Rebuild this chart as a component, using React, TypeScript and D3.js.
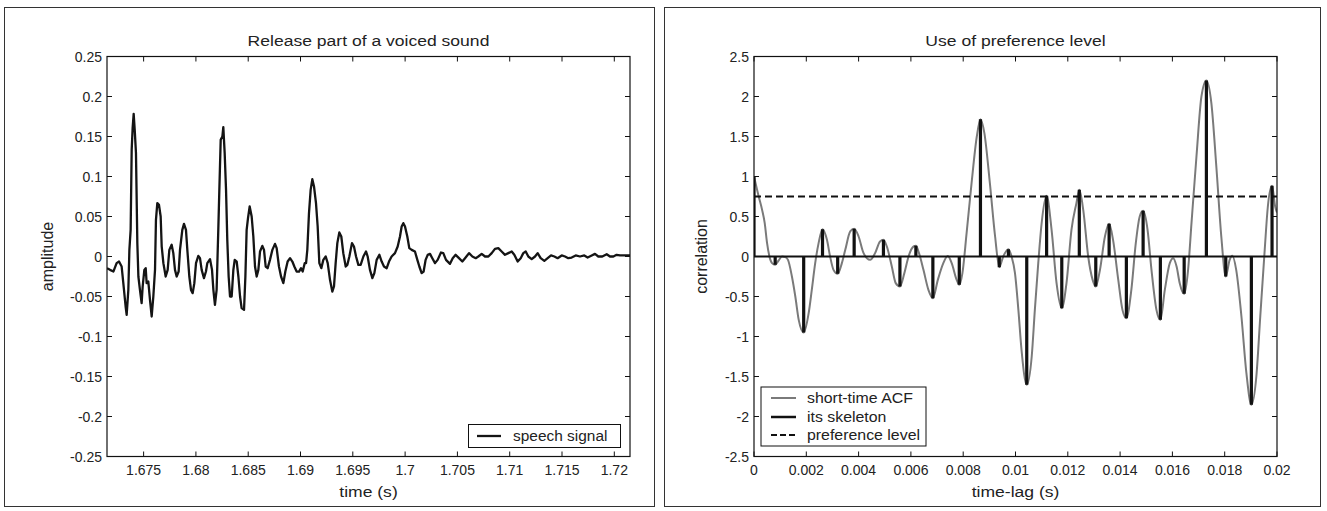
import React from 'react';
import * as d3 from 'd3';

// ---------- Left panel: speech signal ----------
const speechTime = [
  1.6715, 1.67179, 1.67211, 1.67242, 1.67265, 1.6729, 1.67306, 1.67328, 1.67338, 1.67354,
  1.67364, 1.67376, 1.67386, 1.67395, 1.67405, 1.67415, 1.67427, 1.6744, 1.6745, 1.67465,
  1.67481, 1.67491, 1.67507, 1.6752, 1.67529, 1.67545, 1.67561, 1.67577, 1.67593, 1.67609,
  1.67618, 1.67631, 1.67647, 1.67663, 1.67673, 1.67689, 1.67711, 1.6773, 1.67746, 1.67768,
  1.67784, 1.678, 1.67816, 1.67835, 1.67848, 1.6787, 1.67886, 1.67905, 1.67918, 1.67937,
  1.67953, 1.67969, 1.67985, 1.68001, 1.68023, 1.68039, 1.68055, 1.68077, 1.68096, 1.68109,
  1.68135, 1.68154, 1.68167, 1.68182, 1.68198, 1.68214, 1.68224, 1.68237, 1.68253, 1.68262,
  1.68275, 1.68288, 1.683, 1.68313, 1.68326, 1.68342, 1.68358, 1.68371, 1.6839, 1.68406,
  1.68422, 1.68437, 1.6846, 1.68473, 1.68485, 1.68498, 1.68514, 1.68533, 1.68549, 1.68565,
  1.68581, 1.68597, 1.68613, 1.68635, 1.68651, 1.68667, 1.68686, 1.68708, 1.68731, 1.68756,
  1.68772, 1.68794, 1.68814, 1.68836, 1.68855, 1.68877, 1.689, 1.68922, 1.68941, 1.68963,
  1.68986, 1.69005, 1.69021, 1.6904, 1.69053, 1.69065, 1.69081, 1.69097, 1.69113, 1.69129,
  1.69148, 1.69164, 1.6918, 1.69199, 1.69218, 1.69241, 1.6926, 1.69282, 1.69304, 1.6932,
  1.69336, 1.69352, 1.69371, 1.6939, 1.69409, 1.69432, 1.69448, 1.69467, 1.69492, 1.69511,
  1.69531, 1.69553, 1.69575, 1.69601, 1.69626, 1.69642, 1.69664, 1.69687, 1.69706, 1.69728,
  1.69754, 1.69776, 1.69798, 1.69824, 1.69846, 1.69871, 1.69903, 1.69929, 1.69951, 1.69967,
  1.69983, 1.69999, 1.70021, 1.7004, 1.70063, 1.70094, 1.70117, 1.70136, 1.70158, 1.70177,
  1.70196, 1.70216, 1.70238, 1.7026, 1.70286, 1.70311, 1.70343, 1.70365, 1.70391, 1.70429,
  1.70455, 1.70483, 1.70515, 1.70547, 1.70573, 1.70611, 1.70643, 1.70675, 1.707, 1.70732,
  1.70764, 1.70796, 1.70828, 1.70859, 1.70891, 1.70923, 1.70955, 1.70987, 1.71019, 1.71044,
  1.71076, 1.71105, 1.7113, 1.71153, 1.71178, 1.7121, 1.71242, 1.71267, 1.71296, 1.71331,
  1.71363, 1.71395, 1.71427, 1.71458, 1.71497, 1.71529, 1.7156, 1.71592, 1.71631, 1.71672,
  1.71713, 1.71745, 1.71784, 1.71815, 1.71847, 1.71885, 1.71927, 1.71959, 1.71991, 1.72022,
  1.72054, 1.72102, 1.7215,
];
const speechAmplitude = [
  -0.0146, -0.0167, -0.0188, -0.0083, -0.0063, -0.0125, -0.0333, -0.0625, -0.0729, -0.0417,
  0.0083, 0.0333, 0.1333, 0.1604, 0.1783, 0.1583, 0.1292, 0.0167, -0.025, -0.0417,
  -0.0583, -0.0375, -0.0167, -0.0146, -0.0333, -0.0313, -0.0542, -0.075, -0.05, -0.0167,
  0.0458, 0.0667, 0.0646, 0.05, 0.0125, -0.0083, -0.025, -0.0167, 0.0083, 0.0146,
  0.0042, -0.0167, -0.025, -0.0188, 0.0083, 0.0333, 0.0408, 0.0333, 0.0083, -0.025,
  -0.0417, -0.0458, -0.0333, -0.0083, 0.0008, -0.0021, -0.0167, -0.0271, -0.0188, -0.0083,
  -0.0033, -0.0167, -0.0417, -0.0604, -0.0417, 0.0333, 0.0833, 0.1458, 0.15, 0.1617,
  0.1292, 0.0833, 0.0208, -0.025, -0.05, -0.05, -0.0167, -0.0042, -0.0063, -0.025,
  -0.05, -0.0646, -0.0667, -0.025, 0.0333, 0.0479, 0.0625, 0.05, 0.025, -0.0125,
  -0.025, -0.0167, 0.0063, 0.0133, 0.0083, -0.0125, -0.0146, -0.0042, 0.0083, 0.0158,
  0.0104, -0.0125, -0.025, -0.0333, -0.0188, -0.0063, -0.0021, -0.0063, -0.0125, -0.0188,
  -0.0188, -0.0146, -0.0188, -0.0083, -0.0083, 0.0083, 0.0542, 0.0833, 0.0967, 0.0875,
  0.0667, 0.0375, -0.0083, -0.0146, -0.0042, 0.0, -0.0083, -0.0292, -0.0438, -0.0375,
  -0.0083, 0.0167, 0.03, 0.025, 0.0042, -0.0125, -0.0104, 0.0, 0.0167, 0.0125,
  0.0, -0.0104, -0.0104, 0.0, 0.0063, 0.0, -0.0167, -0.0271, -0.0208, -0.0042,
  0.0021, -0.0063, -0.0125, -0.0146, -0.0063, 0.0, 0.0042, 0.0125, 0.025, 0.0375,
  0.0417, 0.0375, 0.025, 0.0104, 0.0083, 0.0063, -0.0042, -0.0125, -0.0208, -0.0188,
  -0.0042, 0.0021, 0.0033, -0.0021, -0.0083, -0.0042, 0.005, 0.0042, -0.0042, -0.0092,
  -0.0021, 0.0021, -0.0021, -0.0063, -0.0021, 0.0042, 0.0, -0.0021, 0.0, 0.0033,
  0.0, 0.0, 0.0042, 0.0096, 0.0104, 0.0063, 0.0021, 0.0042, 0.0063, 0.0021,
  -0.0063, -0.0021, 0.0042, 0.0063, 0.0, -0.0033, 0.0, 0.0042, -0.0021, -0.0054,
  -0.0021, 0.0013, 0.0, -0.0021, 0.0013, 0.0, -0.0021, -0.0013, 0.0013, 0.0,
  0.0013, -0.0013, 0.0013, 0.0033, 0.0, 0.0, 0.0029, 0.0, 0.0, 0.0021,
  0.0013, 0.0013, 0.0013,
];
const leftXTicks = [1.675, 1.68, 1.685, 1.69, 1.695, 1.7, 1.705, 1.71, 1.715, 1.72];
const leftXTickLabels = ['1.675', '1.68', '1.685', '1.69', '1.695', '1.7', '1.705', '1.71', '1.715', '1.72'];
const leftYTicks = [0.25, 0.2, 0.15, 0.1, 0.05, 0, -0.05, -0.1, -0.15, -0.2, -0.25];
const leftYTickLabels = ['0.25', '0.2', '0.15', '0.1', '0.05', '0', '-0.05', '-0.1', '-0.15', '-0.2', '-0.25'];

// ---------- Right panel: short-time ACF ----------
const acfLag = [
  0, 0.00018, 0.00031, 0.00041, 0.0005, 0.00059, 0.00069, 0.00081, 0.00094, 0.00107,
  0.0012, 0.0013, 0.00145, 0.00158, 0.00171, 0.0019, 0.00209, 0.00221, 0.00234, 0.00247,
  0.00262, 0.00279, 0.00291, 0.00304, 0.0032, 0.00336, 0.00349, 0.00368, 0.00383, 0.004,
  0.00419, 0.00444, 0.00463, 0.00482, 0.00495, 0.00508, 0.00527, 0.00542, 0.00558, 0.00575,
  0.00591, 0.0061, 0.00619, 0.00631, 0.00648, 0.00667, 0.00684, 0.00703, 0.00724, 0.00741,
  0.00756, 0.00775, 0.00785, 0.00797, 0.00813, 0.00832, 0.00852, 0.00866, 0.00881, 0.00902,
  0.00922, 0.00938, 0.00953, 0.00973, 0.00985, 0.00998, 0.01011, 0.01023, 0.01043, 0.01062,
  0.01074, 0.01087, 0.011, 0.01119, 0.01138, 0.01157, 0.01177, 0.01195, 0.01214, 0.01233,
  0.01244, 0.01259, 0.01278, 0.01295, 0.01307, 0.01323, 0.01342, 0.01358, 0.01373, 0.01393,
  0.01409, 0.01424, 0.01443, 0.0146, 0.01475, 0.01488, 0.01505, 0.0152, 0.01539, 0.01554,
  0.01571, 0.0159, 0.01603, 0.01616, 0.01628, 0.01645, 0.0166, 0.01673, 0.01692, 0.01711,
  0.0173, 0.01749, 0.01768, 0.01787, 0.01804, 0.01819, 0.01829, 0.01844, 0.01864, 0.01883,
  0.01902, 0.01921, 0.01936, 0.01953, 0.01965, 0.01981, 0.01993, 0.02,
];
const acfValue = [
  1.0, 0.75, 0.583, 0.417, 0.167, 0.0, -0.083, -0.104, -0.05, 0.0,
  -0.008, -0.042, -0.25, -0.5, -0.792, -0.95, -0.708, -0.417, -0.083, 0.167,
  0.342, 0.208, 0.0, -0.167, -0.217, -0.083, 0.083, 0.313, 0.346, 0.25,
  0.042, -0.042, 0.042, 0.188, 0.208, 0.125, -0.125, -0.333, -0.375, -0.208,
  0.0, 0.125, 0.133, 0.042, -0.167, -0.417, -0.521, -0.292, -0.083, 0.005,
  -0.083, -0.292, -0.354, -0.208, 0.292, 0.917, 1.5, 1.717, 1.542, 0.917,
  0.25, -0.133, 0.0, 0.092, 0.0, -0.208, -0.667, -1.167, -1.604, -1.25,
  -0.667, -0.083, 0.417, 0.758, 0.333, -0.333, -0.646, -0.333, 0.333, 0.667,
  0.833, 0.583, 0.0, -0.292, -0.375, -0.167, 0.25, 0.408, 0.208, -0.292,
  -0.667, -0.771, -0.417, 0.167, 0.5, 0.571, 0.333, -0.167, -0.667, -0.792,
  -0.417, -0.083, -0.021, -0.125, -0.333, -0.467, -0.167, 0.417, 1.25, 2.0,
  2.2, 1.917, 1.125, 0.25, -0.25, -0.042, 0.008, -0.167, -0.75, -1.458,
  -1.854, -1.5, -0.75, 0.083, 0.625, 0.883, 0.625, 0.55,
];
const skeletonLag = [
  0, 0.00081, 0.0019, 0.00262, 0.0032, 0.00383, 0.00495, 0.00558, 0.00619, 0.00684,
  0.00785, 0.00866, 0.00938, 0.00973, 0.01043, 0.01119, 0.01177, 0.01244, 0.01307, 0.01358,
  0.01424, 0.01488, 0.01554, 0.01645, 0.0173, 0.01804, 0.01902, 0.01981,
];
const skeletonValue = [
  1.0, -0.104, -0.95, 0.342, -0.217, 0.346, 0.208, -0.375, 0.133, -0.521,
  -0.354, 1.717, -0.133, 0.092, -1.604, 0.758, -0.646, 0.833, -0.375, 0.408,
  -0.771, 0.571, -0.792, -0.467, 2.2, -0.25, -1.854, 0.883,
];
const preferenceLevel = 0.75;
const rightXTicks = [0, 0.002, 0.004, 0.006, 0.008, 0.01, 0.012, 0.014, 0.016, 0.018, 0.02];
const rightXTickLabels = ['0', '0.002', '0.004', '0.006', '0.008', '0.01', '0.012', '0.014', '0.016', '0.018', '0.02'];
const rightYTicks = [2.5, 2, 1.5, 1, 0.5, 0, -0.5, -1, -1.5, -2, -2.5];
const rightYTickLabels = ['2.5', '2', '1.5', '1', '0.5', '0', '-0.5', '-1', '-1.5', '-2', '-2.5'];

const FONT = '"Liberation Sans", Arial, Helvetica, sans-serif';
const TEXT = '#222';

type TxtProps = {
  x: number; y: number; size: number; anchor?: string; rotate?: number; sx?: number; children: React.ReactNode;
};
function Txt({ x, y, size, anchor = 'middle', rotate = 0, sx = 1, children }: TxtProps) {
  return (
    <text
      transform={`translate(${x},${y}) rotate(${rotate}) scale(${sx},1)`}
      textAnchor={anchor}
      fontSize={size}
      fontFamily={FONT}
      fill={TEXT}
    >
      {children}
    </text>
  );
}

type AxesProps = {
  left: number; right: number; top: number; bottom: number;
  x: d3.ScaleLinear<number, number>; y: d3.ScaleLinear<number, number>;
  xTicks: number[]; xLabels: string[]; yTicks: number[]; yLabels: string[];
  title: string; xTitle: string; yTitle: string; yTitleOffset: number;
};
function Axes({ left, right, top, bottom, x, y, xTicks, xLabels, yTicks, yLabels, title, xTitle, yTitle, yTitleOffset }: AxesProps) {
  const tl = 5;
  return (
    <g>
      <rect x={left} y={top} width={right - left} height={bottom - top} fill="none" stroke="#111" strokeWidth={1.2} />
      {xTicks.map((t, i) => (
        <g key={'xt' + i}>
          <line x1={x(t)} x2={x(t)} y1={bottom} y2={bottom - tl} stroke="#111" strokeWidth={1} />
          <line x1={x(t)} x2={x(t)} y1={top} y2={top + tl} stroke="#111" strokeWidth={1} />
          <Txt x={x(t)} y={bottom + 18} size={14}>{xLabels[i]}</Txt>
        </g>
      ))}
      {yTicks.map((t, i) => (
        <g key={'yt' + i}>
          <line x1={left} x2={left + tl} y1={y(t)} y2={y(t)} stroke="#111" strokeWidth={1} />
          <line x1={right} x2={right - tl} y1={y(t)} y2={y(t)} stroke="#111" strokeWidth={1} />
          <Txt x={left - 5} y={y(t) + 5} size={14} anchor="end">{yLabels[i]}</Txt>
        </g>
      ))}
      <Txt x={(left + right) / 2} y={top - 11} size={15} sx={1.17}>{title}</Txt>
      <Txt x={(left + right) / 2} y={bottom + 40} size={15} sx={1.17}>{xTitle}</Txt>
      <Txt x={left - yTitleOffset} y={(top + bottom) / 2} size={16} rotate={-90}>{yTitle}</Txt>
    </g>
  );
}

export default function App() {
  const top = 56.5;
  const bottom = 456.5;

  // left panel
  const lx0 = 107, lx1 = 630;
  const xL = d3.scaleLinear().domain([1.6715, 1.7215]).range([lx0, lx1]);
  const yL = d3.scaleLinear().domain([-0.25, 0.25]).range([bottom, top]);
  const speechPts: [number, number][] = speechTime.map((t, i) => [t, speechAmplitude[i]]);
  const speechPath = d3.line<[number, number]>().x((d) => xL(d[0])).y((d) => yL(d[1])).curve(d3.curveLinear)(speechPts) || '';

  // right panel
  const rx0 = 754, rx1 = 1277;
  const xR = d3.scaleLinear().domain([0, 0.02]).range([rx0, rx1]);
  const yR = d3.scaleLinear().domain([-2.5, 2.5]).range([bottom, top]);
  const acfPts: [number, number][] = acfLag.map((t, i) => [t, acfValue[i]]);
  const acfPath = d3.line<[number, number]>().x((d) => xR(d[0])).y((d) => yR(d[1])).curve(d3.curveMonotoneX)(acfPts) || '';

  return (
    <svg width={1327} height={511} style={{ position: 'absolute', left: 0, top: 0, background: '#fff' }}>
      <rect x={0} y={0} width={1327} height={511} fill="#fff" />
      <rect x={4.5} y={7.5} width={650} height={499} fill="none" stroke="#333" strokeWidth={1} />
      <rect x={664.5} y={7.5} width={656} height={499} fill="none" stroke="#333" strokeWidth={1} />

      <defs>
        <clipPath id="clipL"><rect x={lx0} y={top} width={lx1 - lx0} height={bottom - top} /></clipPath>
        <clipPath id="clipR"><rect x={rx0} y={top} width={rx1 - rx0} height={bottom - top} /></clipPath>
      </defs>

      {/* Left */}
      <path d={speechPath} fill="none" stroke="#141414" strokeWidth={2.3} strokeLinejoin="round" clipPath="url(#clipL)" />
      <Axes left={lx0} right={lx1} top={top} bottom={bottom} x={xL} y={yL}
        xTicks={leftXTicks} xLabels={leftXTickLabels} yTicks={leftYTicks} yLabels={leftYTickLabels}
        title="Release part of a voiced sound" xTitle="time (s)" yTitle="amplitude" yTitleOffset={54} />
      <g>
        <rect x={468.5} y={424.5} width={152} height={23} fill="#fff" stroke="#111" strokeWidth={1} />
        <line x1={477} x2={501} y1={436} y2={436} stroke="#141414" strokeWidth={2.3} />
        <Txt x={513} y={441} size={15} anchor="start" sx={1.03}>speech signal</Txt>
      </g>

      {/* Right */}
      <g clipPath="url(#clipR)">
        <path d={acfPath} fill="none" stroke="#7a7a7a" strokeWidth={2} />
        <line x1={rx0} x2={rx1} y1={yR(0)} y2={yR(0)} stroke="#111" strokeWidth={2} />
        {skeletonLag.map((t, i) => (
          <line key={'sk' + i} x1={xR(t)} x2={xR(t)} y1={yR(0)} y2={yR(skeletonValue[i])} stroke="#111" strokeWidth={3.2} />
        ))}
        <line x1={rx0} x2={rx1} y1={yR(preferenceLevel)} y2={yR(preferenceLevel)} stroke="#111" strokeWidth={2} strokeDasharray="7,4" />
      </g>
      <Axes left={rx0} right={rx1} top={top} bottom={bottom} x={xR} y={yR}
        xTicks={rightXTicks} xLabels={rightXTickLabels} yTicks={rightYTicks} yLabels={rightYTickLabels}
        title="Use of preference level" xTitle="time-lag (s)" yTitle="correlation" yTitleOffset={47} />
      <g>
        <rect x={761} y={387} width={165} height={59} fill="#fff" stroke="#111" strokeWidth={1} />
        <line x1={771} x2={796} y1={398} y2={398} stroke="#7a7a7a" strokeWidth={2} />
        <Txt x={807} y={403} size={15} anchor="start" sx={1.06}>short-time ACF</Txt>
        <line x1={771} x2={796} y1={417} y2={417} stroke="#111" strokeWidth={2.5} />
        <Txt x={807} y={422} size={15} anchor="start" sx={1.06}>its skeleton</Txt>
        <line x1={771} x2={796} y1={435} y2={435} stroke="#111" strokeWidth={2} strokeDasharray="6,3" />
        <Txt x={807} y={440} size={15} anchor="start" sx={1.06}>preference level</Txt>
      </g>
    </svg>
  );
}
